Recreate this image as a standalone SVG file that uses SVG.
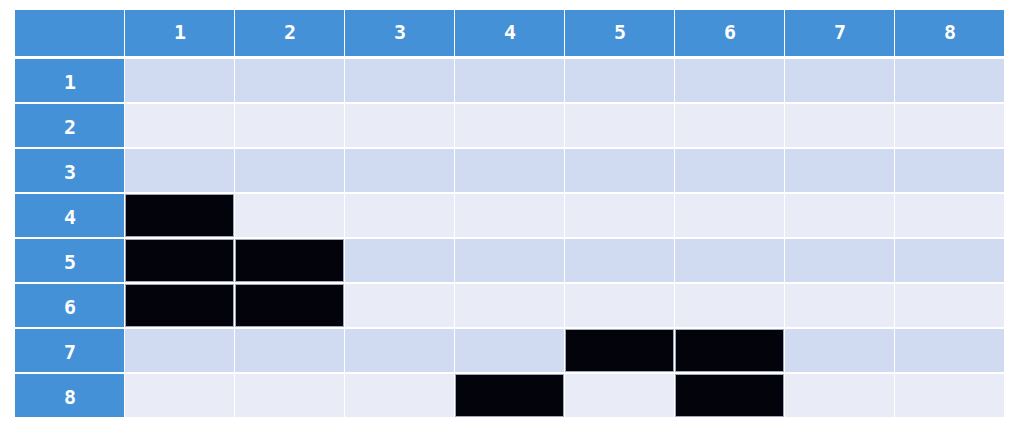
<svg xmlns="http://www.w3.org/2000/svg" width="1020" height="435" viewBox="0 0 1020 435">
<style>
.h{fill:#4591D7}
.o{fill:#D0DBF1}
.e{fill:#E9EBF7}
.b{fill:#03030B;stroke:#A0A6B8;stroke-width:1}
text{font-family:"DejaVu Sans Mono","Liberation Mono",monospace;font-size:20px;font-weight:bold;fill:#FFFFFF;text-anchor:middle;dominant-baseline:central}
</style>
<rect width="1020" height="435" fill="#FFFFFF"/>
<g id="header">
<rect class="h" x="15" y="10" width="109" height="46"/>
<rect class="h" x="125" y="10" width="109" height="46"/><text x="180" y="32">1</text>
<rect class="h" x="235" y="10" width="109" height="46"/><text x="290" y="32">2</text>
<rect class="h" x="345" y="10" width="109" height="46"/><text x="400" y="32">3</text>
<rect class="h" x="455" y="10" width="109" height="46"/><text x="510" y="32">4</text>
<rect class="h" x="565" y="10" width="109" height="46"/><text x="620" y="32">5</text>
<rect class="h" x="675" y="10" width="109" height="46"/><text x="730" y="32">6</text>
<rect class="h" x="785" y="10" width="109" height="46"/><text x="840" y="32">7</text>
<rect class="h" x="895" y="10" width="109" height="46"/><text x="950" y="32">8</text>
</g>
<g id="row1">
<rect class="h" x="15" y="59" width="109" height="43"/><text x="70" y="82">1</text>
<rect class="o" x="125" y="59" width="109" height="43"/><rect class="o" x="235" y="59" width="109" height="43"/><rect class="o" x="345" y="59" width="109" height="43"/><rect class="o" x="455" y="59" width="109" height="43"/><rect class="o" x="565" y="59" width="109" height="43"/><rect class="o" x="675" y="59" width="109" height="43"/><rect class="o" x="785" y="59" width="109" height="43"/><rect class="o" x="895" y="59" width="109" height="43"/>
</g>
<g id="row2">
<rect class="h" x="15" y="104" width="109" height="43"/><text x="70" y="127">2</text>
<rect class="e" x="125" y="104" width="109" height="43"/><rect class="e" x="235" y="104" width="109" height="43"/><rect class="e" x="345" y="104" width="109" height="43"/><rect class="e" x="455" y="104" width="109" height="43"/><rect class="e" x="565" y="104" width="109" height="43"/><rect class="e" x="675" y="104" width="109" height="43"/><rect class="e" x="785" y="104" width="109" height="43"/><rect class="e" x="895" y="104" width="109" height="43"/>
</g>
<g id="row3">
<rect class="h" x="15" y="149" width="109" height="43"/><text x="70" y="172">3</text>
<rect class="o" x="125" y="149" width="109" height="43"/><rect class="o" x="235" y="149" width="109" height="43"/><rect class="o" x="345" y="149" width="109" height="43"/><rect class="o" x="455" y="149" width="109" height="43"/><rect class="o" x="565" y="149" width="109" height="43"/><rect class="o" x="675" y="149" width="109" height="43"/><rect class="o" x="785" y="149" width="109" height="43"/><rect class="o" x="895" y="149" width="109" height="43"/>
</g>
<g id="row4">
<rect class="h" x="15" y="194" width="109" height="43"/><text x="70" y="217">4</text>
<rect class="b" x="125.5" y="194.5" width="108" height="42"/><rect class="e" x="235" y="194" width="109" height="43"/><rect class="e" x="345" y="194" width="109" height="43"/><rect class="e" x="455" y="194" width="109" height="43"/><rect class="e" x="565" y="194" width="109" height="43"/><rect class="e" x="675" y="194" width="109" height="43"/><rect class="e" x="785" y="194" width="109" height="43"/><rect class="e" x="895" y="194" width="109" height="43"/>
</g>
<g id="row5">
<rect class="h" x="15" y="239" width="109" height="43"/><text x="70" y="262">5</text>
<rect class="b" x="125.5" y="239.5" width="108" height="42"/><rect class="b" x="235.5" y="239.5" width="108" height="42"/><rect class="o" x="345" y="239" width="109" height="43"/><rect class="o" x="455" y="239" width="109" height="43"/><rect class="o" x="565" y="239" width="109" height="43"/><rect class="o" x="675" y="239" width="109" height="43"/><rect class="o" x="785" y="239" width="109" height="43"/><rect class="o" x="895" y="239" width="109" height="43"/>
</g>
<g id="row6">
<rect class="h" x="15" y="284" width="109" height="43"/><text x="70" y="307">6</text>
<rect class="b" x="125.5" y="284.5" width="108" height="42"/><rect class="b" x="235.5" y="284.5" width="108" height="42"/><rect class="e" x="345" y="284" width="109" height="43"/><rect class="e" x="455" y="284" width="109" height="43"/><rect class="e" x="565" y="284" width="109" height="43"/><rect class="e" x="675" y="284" width="109" height="43"/><rect class="e" x="785" y="284" width="109" height="43"/><rect class="e" x="895" y="284" width="109" height="43"/>
</g>
<g id="row7">
<rect class="h" x="15" y="329" width="109" height="43"/><text x="70" y="352">7</text>
<rect class="o" x="125" y="329" width="109" height="43"/><rect class="o" x="235" y="329" width="109" height="43"/><rect class="o" x="345" y="329" width="109" height="43"/><rect class="o" x="455" y="329" width="109" height="43"/><rect class="b" x="565.5" y="329.5" width="108" height="42"/><rect class="b" x="675.5" y="329.5" width="108" height="42"/><rect class="o" x="785" y="329" width="109" height="43"/><rect class="o" x="895" y="329" width="109" height="43"/>
</g>
<g id="row8">
<rect class="h" x="15" y="374" width="109" height="43"/><text x="70" y="397">8</text>
<rect class="e" x="125" y="374" width="109" height="43"/><rect class="e" x="235" y="374" width="109" height="43"/><rect class="e" x="345" y="374" width="109" height="43"/><rect class="b" x="455.5" y="374.5" width="108" height="42"/><rect class="e" x="565" y="374" width="109" height="43"/><rect class="b" x="675.5" y="374.5" width="108" height="42"/><rect class="e" x="785" y="374" width="109" height="43"/><rect class="e" x="895" y="374" width="109" height="43"/>
</g>
<g id="connectors"/>
</svg>
